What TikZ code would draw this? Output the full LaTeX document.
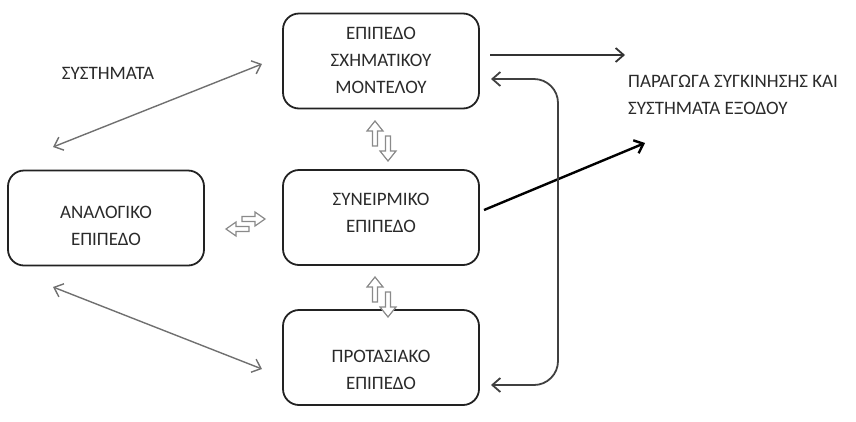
\documentclass[tikz,border=0pt]{standalone}
\usepackage{fontspec}
\setmainfont{Carlito}
\usetikzlibrary{arrows.meta}
\definecolor{boxline}{HTML}{222222}
\definecolor{thin}{HTML}{707070}
\definecolor{hollow}{HTML}{8A8A8A}
\definecolor{txt}{HTML}{2A2A2A}
\tikzset{
  levelbox/.style={draw=boxline,line width=1.8pt,rounded corners=16pt,minimum width=196pt,minimum height=95pt,inner sep=0pt},
  lbl/.style={font=\fontsize{19}{27}\selectfont,align=center,inner sep=0pt,text=txt},
  thinarrow/.style={draw=thin,line width=1.4pt,{Straight Barb[length=8pt,width=14pt]}-{Straight Barb[length=8pt,width=14pt]}},
  hollowarrow/.style={draw=hollow,line width=1.2pt,fill=white,line join=miter}
}
\begin{document}
\begin{tikzpicture}[x=1pt,y=-1pt]
\useasboundingbox (0,0) rectangle (856,421);
% boxes
\node[levelbox] (top) at (381,61) {};
\node[levelbox] (mid) at (381,217.5) {};
\node[levelbox] (bot) at (381,357.5) {};
\node[levelbox] (left) at (106,218) {};
% texts
\node[lbl] (toptxt) at (381,60) {ΕΠΙΠΕΔΟ\\ΣΧΗΜΑΤΙΚΟΥ\\ΜΟΝΤΕΛΟΥ};
\node[lbl] (midtxt) at (381,213) {ΣΥΝΕΙΡΜΙΚΟ\\ΕΠΙΠΕΔΟ};
\node[lbl] (bottxt) at (381,369.5) {ΠΡΟΤΑΣΙΑΚΟ\\ΕΠΙΠΕΔΟ};
\node[lbl] (lefttxt) at (106,226) {ΑΝΑΛΟΓΙΚΟ\\ΕΠΙΠΕΔΟ};
\node[lbl] (sys) at (108,73) {ΣΥΣΤΗΜΑΤΑ};
\node[lbl,align=left,anchor=west] (out) at (628,95) {ΠΑΡΑΓΩΓΑ ΣΥΓΚΙΝΗΣΗΣ ΚΑΙ\\ΣΥΣΤΗΜΑΤΑ ΕΞΟΔΟΥ};
% free ends
\coordinate (s1) at (53,147);
\coordinate (s2) at (262,64);
\coordinate (s3) at (53,287);
\coordinate (s4) at (262,369);
\coordinate (o1) at (490,55);
\coordinate (o2) at (625,55);
\coordinate (m1) at (484,210);
\coordinate (m2) at (645,143);
\coordinate (r1) at (491,79);
\coordinate (r2) at (558,79);
\coordinate (r3) at (558,385);
\coordinate (r4) at (491,385);
% connectors
\draw[thinarrow] (s1) -- (s2);
\draw[thinarrow] (s3) -- (s4);
\draw[draw=black!80,line width=1.8pt,-{Straight Barb[length=8pt,width=14pt]}] (o1) -- (o2);
\draw[draw=black,line width=2.4pt,-{Straight Barb[length=8pt,width=14pt]}] (m1) -- (m2);
\draw[draw=black!75,line width=1.8pt,rounded corners=24pt,{Straight Barb[length=8pt,width=14pt]}-{Straight Barb[length=8pt,width=14pt]}] (r1) -- (r2) -- (r3) -- (r4);
% hollow double arrows (top-mid and mid-bot)
\foreach \dy in {0,156} {
  \draw[hollowarrow] (375,121+\dy) -- (383,131+\dy) -- (377.5,131+\dy) -- (377.5,146+\dy) -- (372.5,146+\dy) -- (372.5,131+\dy) -- (367,131+\dy) -- cycle;
  \draw[hollowarrow] (388,161+\dy) -- (396,151+\dy) -- (390.5,151+\dy) -- (390.5,136+\dy) -- (385.5,136+\dy) -- (385.5,151+\dy) -- (380,151+\dy) -- cycle;
}
% hollow horizontal pair (left-mid)
\draw[hollowarrow] (265,219) -- (255,212) -- (255,216.5) -- (242,216.5) -- (242,221.5) -- (255,221.5) -- (255,226) -- cycle;
\draw[hollowarrow] (226,229) -- (236,222) -- (236,226.5) -- (249,226.5) -- (249,231.5) -- (236,231.5) -- (236,236) -- cycle;
\end{tikzpicture}
\end{document}
